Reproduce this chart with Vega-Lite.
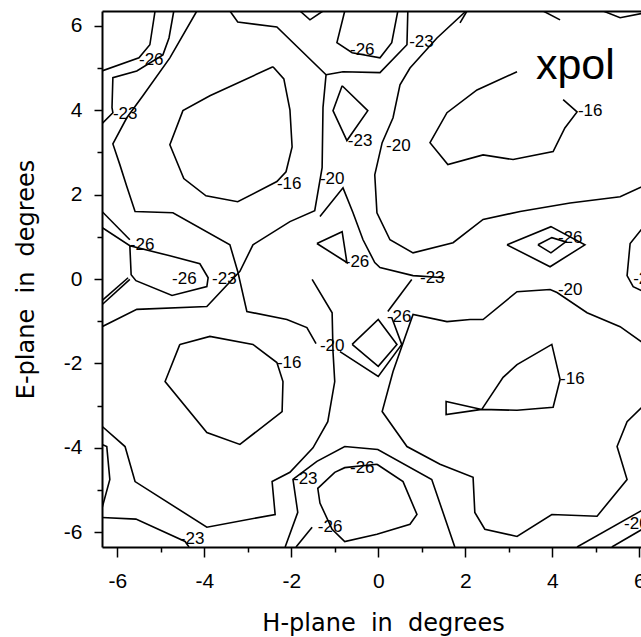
{
  "$schema": "https://vega.github.io/schema/vega-lite/v6.json",
  "autosize": {"type": "none"},
  "padding": {"left": 102, "top": 11, "right": 0, "bottom": 90},
  "width": 539,
  "height": 536,
  "background": "white",
  "config": {"view": {"stroke": null}},
  "datasets": {
    "lines": [
      {"id":"c1","o":0,"x":-5.13,"y":6.35},{"id":"c1","o":1,"x":-5.25,"y":5.55},{"id":"c1","o":2,"x":-5.5,"y":5.24},{"id":"c1","o":3,"x":-6.35,"y":4.93},
      {"id":"c2","o":0,"x":-4.7,"y":6.35},{"id":"c2","o":1,"x":-4.81,"y":5.71},{"id":"c2","o":2,"x":-4.95,"y":5.31},{"id":"c2","o":3,"x":-5.55,"y":4.93},{"id":"c2","o":4,"x":-6.1,"y":4.77},{"id":"c2","o":5,"x":-6.12,"y":4.06},{"id":"c2","o":6,"x":-6.1,"y":3.94},{"id":"c2","o":7,"x":-6.35,"y":3.68},
      {"id":"c3","o":0,"x":-4.17,"y":6.35},{"id":"c3","o":1,"x":-4.79,"y":5.24},{"id":"c3","o":2,"x":-5.41,"y":4.34},{"id":"c3","o":3,"x":-5.78,"y":3.82},{"id":"c3","o":4,"x":-6.1,"y":3.2},{"id":"c3","o":5,"x":-5.94,"y":2.71},{"id":"c3","o":6,"x":-5.78,"y":2.19},{"id":"c3","o":7,"x":-5.59,"y":1.6},{"id":"c3","o":8,"x":-4.72,"y":1.57},{"id":"c3","o":9,"x":-3.41,"y":0.81},{"id":"c3","o":10,"x":-3.23,"y":0.18},{"id":"c3","o":11,"x":-3.02,"y":-0.77},{"id":"c3","o":12,"x":-2.1,"y":-0.96},{"id":"c3","o":13,"x":-1.64,"y":-1.15},{"id":"c3","o":14,"x":-1.43,"y":-1.53},
      {"id":"c4","o":0,"x":-3.41,"y":6.35},{"id":"c4","o":1,"x":-3.23,"y":6.09},{"id":"c4","o":2,"x":-2.33,"y":5.97},{"id":"c4","o":3,"x":-1.2,"y":4.84},{"id":"c4","o":4,"x":-1.27,"y":4.06},{"id":"c4","o":5,"x":-1.29,"y":2.64},{"id":"c4","o":6,"x":-1.46,"y":1.62},{"id":"c4","o":7,"x":-2.03,"y":1.36},{"id":"c4","o":8,"x":-2.88,"y":0.81},{"id":"c4","o":9,"x":-3.18,"y":0.18},{"id":"c4","o":10,"x":-3.94,"y":-0.65},{"id":"c4","o":11,"x":-5.55,"y":-0.72},{"id":"c4","o":12,"x":-6.35,"y":-1.13},
      {"id":"c4n","o":0,"x":-1.8,"y":6.35},{"id":"c4n","o":1,"x":-1.57,"y":6.14},{"id":"c4n","o":2,"x":-1.27,"y":6.35},
      {"id":"c5","o":0,"x":-2.42,"y":5.03},{"id":"c5","o":1,"x":-2.17,"y":4.74},{"id":"c5","o":2,"x":-2.03,"y":4.01},{"id":"c5","o":3,"x":-1.98,"y":3.13},{"id":"c5","o":4,"x":-2.12,"y":2.54},{"id":"c5","o":5,"x":-2.33,"y":2.31},{"id":"c5","o":6,"x":-3.23,"y":1.83},{"id":"c5","o":7,"x":-3.96,"y":1.97},{"id":"c5","o":8,"x":-4.47,"y":2.38},{"id":"c5","o":9,"x":-4.79,"y":3.18},{"id":"c5","o":10,"x":-4.49,"y":3.99},{"id":"c5","o":11,"x":-3.87,"y":4.34},{"id":"c5","o":12,"x":-2.42,"y":5.03},
      {"id":"c6","o":0,"x":-0.77,"y":6.35},{"id":"c6","o":1,"x":-0.95,"y":5.6},{"id":"c6","o":2,"x":-0.6,"y":5.36},{"id":"c6","o":3,"x":0.04,"y":5.24},{"id":"c6","o":4,"x":0.31,"y":5.6},{"id":"c6","o":5,"x":0.45,"y":6.35},
      {"id":"c7","o":0,"x":0.68,"y":6.35},{"id":"c7","o":1,"x":0.66,"y":5.55},{"id":"c7","o":2,"x":0.04,"y":4.89},{"id":"c7","o":3,"x":-0.81,"y":4.91},{"id":"c7","o":4,"x":-1.2,"y":4.84},
      {"id":"c8","o":0,"x":2.02,"y":6.35},{"id":"c8","o":1,"x":1.35,"y":5.71},{"id":"c8","o":2,"x":0.73,"y":5.0},{"id":"c8","o":3,"x":0.5,"y":4.6},{"id":"c8","o":4,"x":0.34,"y":3.82},{"id":"c8","o":5,"x":0.09,"y":3.23},{"id":"c8","o":6,"x":-0.08,"y":2.47},{"id":"c8","o":7,"x":-0.03,"y":1.57},{"id":"c8","o":8,"x":0.27,"y":0.93},{"id":"c8","o":9,"x":0.8,"y":0.62},{"id":"c8","o":10,"x":1.72,"y":0.86},{"id":"c8","o":11,"x":2.41,"y":1.41},{"id":"c8","o":12,"x":3.26,"y":1.6},{"id":"c8","o":13,"x":4.41,"y":1.8},{"id":"c8","o":14,"x":5.56,"y":1.95},{"id":"c8","o":15,"x":6.2,"y":2.25},
      {"id":"c9","o":0,"x":-0.83,"y":4.58},{"id":"c9","o":1,"x":-0.24,"y":3.99},{"id":"c9","o":2,"x":-0.72,"y":3.28},{"id":"c9","o":3,"x":-1.04,"y":3.99},{"id":"c9","o":4,"x":-0.83,"y":4.58},
      {"id":"c10","o":0,"x":3.19,"y":4.91},{"id":"c10","o":1,"x":2.27,"y":4.48},{"id":"c10","o":2,"x":1.58,"y":3.94},{"id":"c10","o":3,"x":1.19,"y":3.23},{"id":"c10","o":4,"x":1.6,"y":2.71},{"id":"c10","o":5,"x":2.41,"y":2.94},{"id":"c10","o":6,"x":3.1,"y":2.83},{"id":"c10","o":7,"x":4.02,"y":3.02},{"id":"c10","o":8,"x":4.29,"y":3.58},{"id":"c10","o":9,"x":4.57,"y":3.96},{"id":"c10","o":10,"x":4.25,"y":4.25},
      {"id":"c11","o":0,"x":3.79,"y":6.35},{"id":"c11","o":1,"x":4.18,"y":6.14},
      {"id":"c11b","o":0,"x":5.17,"y":6.35},{"id":"c11b","o":1,"x":5.56,"y":6.19},{"id":"c11b","o":2,"x":6.1,"y":6.3},
      {"id":"c11c","o":0,"x":1.88,"y":6.07},{"id":"c11c","o":1,"x":2.04,"y":6.35},
      {"id":"c12","o":0,"x":2.96,"y":0.81},{"id":"c12","o":1,"x":3.97,"y":1.24},{"id":"c12","o":2,"x":4.75,"y":0.81},{"id":"c12","o":3,"x":3.95,"y":0.29},{"id":"c12","o":4,"x":2.96,"y":0.81},
      {"id":"c12b","o":0,"x":3.67,"y":0.81},{"id":"c12b","o":1,"x":3.99,"y":0.98},{"id":"c12b","o":2,"x":4.31,"y":0.88},{"id":"c12b","o":3,"x":3.97,"y":0.62},{"id":"c12b","o":4,"x":3.67,"y":0.81},
      {"id":"c13","o":0,"x":6.1,"y":1.24},{"id":"c13","o":1,"x":5.79,"y":0.84},{"id":"c13","o":2,"x":5.72,"y":0.08},{"id":"c13","o":3,"x":5.86,"y":-0.18},{"id":"c13","o":4,"x":6.1,"y":-0.3},
      {"id":"c14","o":0,"x":-1.34,"y":1.48},{"id":"c14","o":1,"x":-0.81,"y":2.16},{"id":"c14","o":2,"x":-0.58,"y":1.57},{"id":"c14","o":3,"x":-0.35,"y":0.93},{"id":"c14","o":4,"x":-0.08,"y":0.39},{"id":"c14","o":5,"x":0.04,"y":0.27},{"id":"c14","o":6,"x":0.8,"y":0.08},{"id":"c14","o":7,"x":1.53,"y":0.03},
      {"id":"c15","o":0,"x":-1.41,"y":0.84},{"id":"c15","o":1,"x":-0.83,"y":1.12},{"id":"c15","o":2,"x":-0.72,"y":0.39},{"id":"c15","o":3,"x":-1.41,"y":0.84},
      {"id":"c16","o":0,"x":0.77,"y":-0.01},{"id":"c16","o":1,"x":0.22,"y":-0.77},
      {"id":"c16b","o":0,"x":-0.6,"y":-1.55},{"id":"c16b","o":1,"x":0.0,"y":-0.96},{"id":"c16b","o":2,"x":0.43,"y":-1.55},{"id":"c16b","o":3,"x":0.0,"y":-2.07},{"id":"c16b","o":4,"x":-0.6,"y":-1.55},
      {"id":"c16c","o":0,"x":-0.88,"y":-1.72},{"id":"c16c","o":1,"x":0.0,"y":-2.31},{"id":"c16c","o":2,"x":0.54,"y":-1.55},{"id":"c16c","o":3,"x":0.31,"y":-0.91},
      {"id":"c17","o":0,"x":-6.35,"y":-3.49},{"id":"c17","o":1,"x":-5.82,"y":-3.97},{"id":"c17","o":2,"x":-5.59,"y":-4.8},{"id":"c17","o":3,"x":-3.94,"y":-5.88},{"id":"c17","o":4,"x":-2.37,"y":-5.58},{"id":"c17","o":5,"x":-2.44,"y":-4.8},{"id":"c17","o":6,"x":-2.03,"y":-4.58},{"id":"c17","o":7,"x":-1.5,"y":-4.0},{"id":"c17","o":8,"x":-1.16,"y":-3.38},{"id":"c17","o":9,"x":-1.0,"y":-2.43},{"id":"c17","o":10,"x":-1.04,"y":-1.72},{"id":"c17","o":11,"x":-1.06,"y":-0.8},{"id":"c17","o":12,"x":-1.52,"y":-0.01},
      {"id":"c18","o":0,"x":-4.56,"y":-1.55},{"id":"c18","o":1,"x":-3.87,"y":-1.36},{"id":"c18","o":2,"x":-2.88,"y":-1.55},{"id":"c18","o":3,"x":-2.33,"y":-1.98},{"id":"c18","o":4,"x":-2.19,"y":-2.43},{"id":"c18","o":5,"x":-2.21,"y":-3.14},{"id":"c18","o":6,"x":-3.18,"y":-3.92},{"id":"c18","o":7,"x":-3.94,"y":-3.64},{"id":"c18","o":8,"x":-4.9,"y":-2.43},{"id":"c18","o":9,"x":-4.56,"y":-1.55},
      {"id":"c19","o":0,"x":-6.35,"y":-3.92},{"id":"c19","o":1,"x":-6.24,"y":-3.97},{"id":"c19","o":2,"x":-6.17,"y":-4.75},{"id":"c19","o":3,"x":-6.35,"y":-5.43},
      {"id":"c20","o":0,"x":-6.35,"y":-5.65},{"id":"c20","o":1,"x":-5.57,"y":-5.69},{"id":"c20","o":2,"x":-4.44,"y":-6.22},{"id":"c20","o":3,"x":-4.35,"y":-6.35},
      {"id":"c21","o":0,"x":-2.14,"y":-6.35},{"id":"c21","o":1,"x":-1.85,"y":-5.53},{"id":"c21","o":2,"x":-1.96,"y":-4.75},{"id":"c21","o":3,"x":-1.41,"y":-4.32},{"id":"c21","o":4,"x":-0.77,"y":-3.97},{"id":"c21","o":5,"x":-0.01,"y":-4.04},{"id":"c21","o":6,"x":1.23,"y":-4.75},{"id":"c21","o":7,"x":1.76,"y":-6.35},
      {"id":"c22","o":0,"x":-0.03,"y":-4.39},{"id":"c22","o":1,"x":0.57,"y":-4.8},{"id":"c22","o":2,"x":0.89,"y":-5.58},{"id":"c22","o":3,"x":0.73,"y":-5.81},{"id":"c22","o":4,"x":-0.03,"y":-6.05},{"id":"c22","o":5,"x":-0.77,"y":-6.22},{"id":"c22","o":6,"x":-1.06,"y":-5.93},{"id":"c22","o":7,"x":-1.34,"y":-5.31},{"id":"c22","o":8,"x":-1.39,"y":-4.96},{"id":"c22","o":9,"x":-1.0,"y":-4.58},{"id":"c22","o":10,"x":-0.77,"y":-4.47},{"id":"c22","o":11,"x":-0.03,"y":-4.39},
      {"id":"c23","o":0,"x":-1.89,"y":-6.35},{"id":"c23","o":1,"x":-1.52,"y":-5.88},
      {"id":"c24","o":0,"x":6.2,"y":-1.6},{"id":"c24","o":1,"x":5.56,"y":-1.13},{"id":"c24","o":2,"x":4.8,"y":-0.8},{"id":"c24","o":3,"x":4.11,"y":-0.32},{"id":"c24","o":4,"x":3.95,"y":-0.25},{"id":"c24","o":5,"x":3.19,"y":-0.3},{"id":"c24","o":6,"x":2.41,"y":-0.96},{"id":"c24","o":7,"x":2.11,"y":-0.96},{"id":"c24","o":8,"x":1.58,"y":-1.01},{"id":"c24","o":9,"x":0.8,"y":-0.84},{"id":"c24","o":10,"x":0.34,"y":-2.19},{"id":"c24","o":11,"x":0.09,"y":-3.14},{"id":"c24","o":12,"x":0.66,"y":-3.97},{"id":"c24","o":13,"x":1.42,"y":-4.39},{"id":"c24","o":14,"x":2.18,"y":-4.7},{"id":"c24","o":15,"x":2.22,"y":-5.53},{"id":"c24","o":16,"x":2.45,"y":-5.93},{"id":"c24","o":17,"x":3.19,"y":-6.1},{"id":"c24","o":18,"x":3.99,"y":-5.58},{"id":"c24","o":19,"x":5.03,"y":-5.62},{"id":"c24","o":20,"x":5.72,"y":-4.75},{"id":"c24","o":21,"x":5.49,"y":-3.97},{"id":"c24","o":22,"x":5.72,"y":-3.38},{"id":"c24","o":23,"x":6.2,"y":-2.9},
      {"id":"c25","o":0,"x":2.38,"y":-3.09},{"id":"c25","o":1,"x":2.87,"y":-2.33},{"id":"c25","o":2,"x":3.19,"y":-2.03},{"id":"c25","o":3,"x":3.99,"y":-1.55},{"id":"c25","o":4,"x":4.18,"y":-2.38},{"id":"c25","o":5,"x":4.02,"y":-3.04},{"id":"c25","o":6,"x":3.19,"y":-3.11},{"id":"c25","o":7,"x":2.38,"y":-3.09},{"id":"c25","o":8,"x":1.56,"y":-3.21},{"id":"c25","o":9,"x":1.56,"y":-2.9},{"id":"c25","o":10,"x":2.38,"y":-3.09},
      {"id":"c26","o":0,"x":4.57,"y":-6.35},{"id":"c26","o":1,"x":6.2,"y":-5.4},
      {"id":"c26b","o":0,"x":5.37,"y":-6.35},{"id":"c26b","o":1,"x":6.2,"y":-5.85},
      {"id":"c27","o":0,"x":-6.35,"y":-0.61},{"id":"c27","o":1,"x":-5.71,"y":-0.01},
      {"id":"c27b","o":0,"x":-6.35,"y":-0.51},{"id":"c27b","o":1,"x":-5.75,"y":0.03},
      {"id":"c28","o":0,"x":-6.35,"y":1.22},{"id":"c28","o":1,"x":-5.71,"y":0.79},{"id":"c28","o":2,"x":-4.79,"y":0.55},{"id":"c28","o":3,"x":-4.1,"y":0.36},{"id":"c28","o":4,"x":-3.91,"y":0.03},{"id":"c28","o":5,"x":-3.94,"y":-0.18},{"id":"c28","o":6,"x":-4.74,"y":-0.39},{"id":"c28","o":7,"x":-5.57,"y":-0.04},{"id":"c28","o":8,"x":-5.68,"y":0.1},{"id":"c28","o":9,"x":-5.71,"y":0.79},
      {"id":"c29","o":0,"x":-6.35,"y":1.6},{"id":"c29","o":1,"x":-5.71,"y":0.93}
    ],
    "labels": [
      {"x":-5.5,"y":5.19,"t":"-26"},{"x":-6.1,"y":3.91,"t":"-23"},{"x":-2.33,"y":2.26,"t":"-16"},{"x":-1.34,"y":2.37,"t":"-20"},
      {"x":-0.65,"y":5.43,"t":"-26"},{"x":0.71,"y":5.62,"t":"-23"},{"x":0.18,"y":3.16,"t":"-20"},{"x":-0.7,"y":3.28,"t":"-23"},
      {"x":4.59,"y":3.99,"t":"-16"},{"x":4.13,"y":0.98,"t":"-26"},{"x":5.86,"y":0.0,"t":"-20"},{"x":0.96,"y":0.03,"t":"-23"},
      {"x":-0.77,"y":0.41,"t":"-26"},{"x":0.2,"y":-0.91,"t":"-26"},{"x":-1.34,"y":-1.58,"t":"-20"},{"x":-2.33,"y":-1.98,"t":"-16"},
      {"x":-4.56,"y":-6.17,"t":"-23"},{"x":-1.96,"y":-4.75,"t":"-23"},{"x":-0.65,"y":-4.49,"t":"-26"},{"x":-1.39,"y":-5.88,"t":"-26"},
      {"x":4.13,"y":-0.25,"t":"-20"},{"x":4.18,"y":-2.38,"t":"-16"},{"x":5.65,"y":-5.81,"t":"-20"},{"x":-5.71,"y":0.81,"t":"-26"},
      {"x":-4.74,"y":-0.01,"t":"-26"},{"x":-3.82,"y":-0.01,"t":"-23"}
    ],
    "notes": [{"x":3.625,"y":4.74,"t":"xpol"}]
  },
  "resolve": {"scale": {"x": "shared", "y": "shared"}, "axis": {"x": "independent"}},
  "layer": [
    {
      "data": {"name": "lines"},
      "mark": {"type": "line", "color": "black", "strokeWidth": 1.6, "clip": true},
      "encoding": {
        "x": {"field": "x", "type": "quantitative",
          "scale": {"domain": [-6.35, 6.04], "nice": false, "zero": false},
          "axis": {"orient": "bottom", "values": [-6,-5,-4,-3,-2,-1,0,1,2,3,4,5,6],
            "labelExpr": "datum.value % 2 === 0 ? (datum.value < 0 ? '-' + abs(datum.value) : '' + datum.value) : ''",
            "tickSize": {"condition": {"test": "datum.value % 2 === 0", "value": 10}, "value": 5},
            "tickColor": "black", "tickWidth": 1.5, "domainColor": "black", "domainWidth": 2,
            "labelFont": "Liberation Sans", "labelFontSize": 21, "labelColor": "black", "labelPadding": 13,
            "labelFlush": false, "labelOverlap": false, "grid": false,
            "title": "H-plane\u00a0\u00a0in\u00a0\u00a0degrees", "titleFont": "DejaVu Sans", "titleFontSize": 24, "titleFontWeight": "normal",
            "titleColor": "black", "titleX": 281, "titleY": 83, "titleBaseline": "alphabetic", "titleAlign": "center"}},
        "y": {"field": "y", "type": "quantitative",
          "scale": {"domain": [-6.35, 6.35], "nice": false, "zero": false},
          "axis": {"orient": "left", "values": [-6,-5,-4,-3,-2,-1,0,1,2,3,4,5,6],
            "labelExpr": "datum.value % 2 === 0 ? (datum.value < 0 ? '-' + abs(datum.value) : '' + datum.value) : ''",
            "tickSize": {"condition": {"test": "datum.value % 2 === 0", "value": 8}, "value": 5},
            "tickColor": "black", "tickWidth": 1.5, "domainColor": "black", "domainWidth": 2,
            "labelFont": "Liberation Sans", "labelFontSize": 21, "labelColor": "black", "labelPadding": 12,
            "labelFlush": false, "labelOverlap": false, "grid": false,
            "title": "E-plane\u00a0\u00a0in\u00a0\u00a0degrees", "titleFont": "DejaVu Sans", "titleFontSize": 24, "titleFontWeight": "normal",
            "titleColor": "black", "titleX": -69, "titleY": 268, "titleAngle": -90, "titleBaseline": "alphabetic", "titleAlign": "center"}},
        "detail": {"field": "id"},
        "order": {"field": "o", "type": "quantitative"}
      }
    },
    {
      "data": {"name": "labels"},
      "mark": {"type": "text", "align": "left", "baseline": "middle", "font": "Liberation Sans", "fontSize": 17, "color": "black"},
      "encoding": {
        "x": {"field": "x", "type": "quantitative",
          "axis": {"orient": "top", "labels": false, "ticks": false, "title": null, "grid": false, "domainColor": "black", "domainWidth": 2}},
        "y": {"field": "y", "type": "quantitative"},
        "text": {"field": "t"}
      }
    },
    {
      "data": {"name": "notes"},
      "mark": {"type": "text", "align": "left", "baseline": "alphabetic", "font": "Liberation Sans", "fontSize": 43, "color": "black"},
      "encoding": {
        "x": {"field": "x", "type": "quantitative", "axis": null},
        "y": {"field": "y", "type": "quantitative"},
        "text": {"field": "t"}
      }
    }
  ]
}
